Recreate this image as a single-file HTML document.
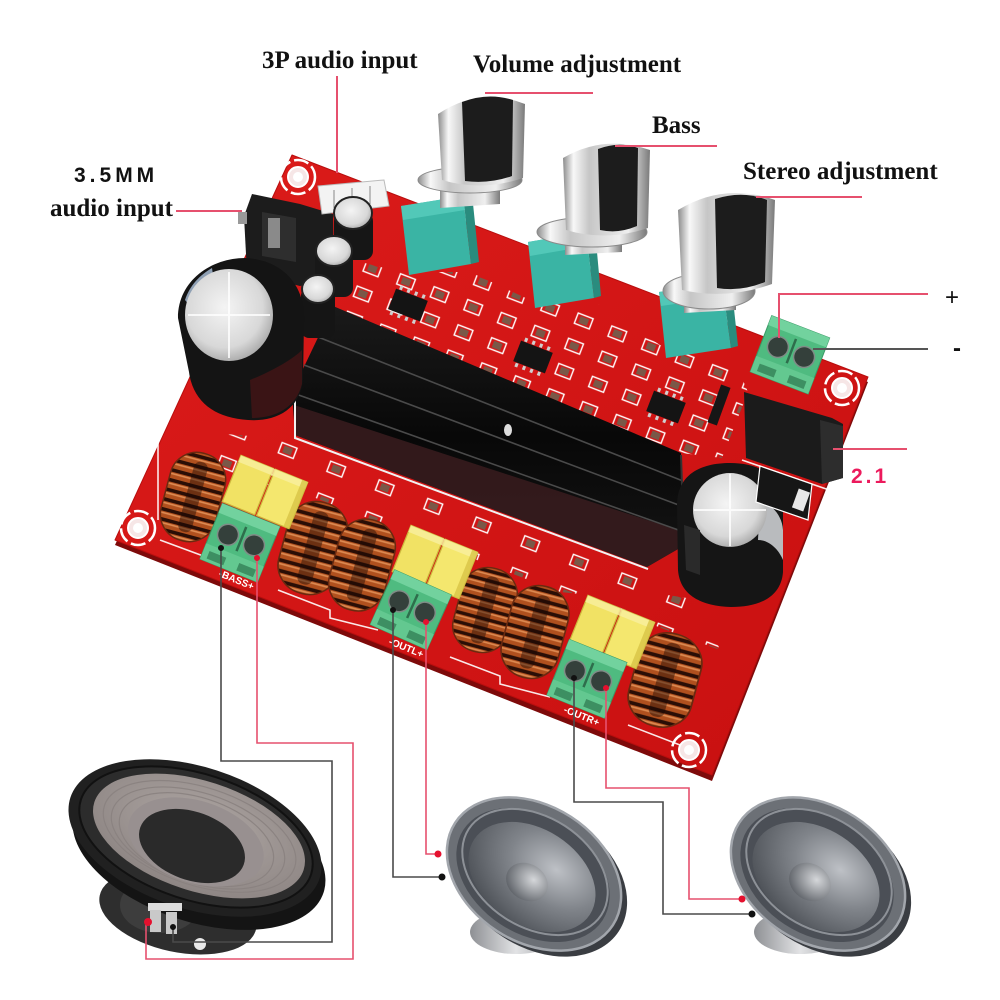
<!DOCTYPE html>
<html><head><meta charset="utf-8"><title>2.1 amplifier board</title><style>
html,body{margin:0;padding:0;background:#fff;}
svg{display:block}
.lbl{font-family:"Liberation Serif",serif;font-weight:bold;fill:#111;font-size:25px;}
.sil{font-family:"Liberation Sans",sans-serif;font-weight:bold;fill:#fff;font-size:10px;}
</style></head><body>
<svg width="1000" height="1000" viewBox="0 0 1000 1000" xmlns="http://www.w3.org/2000/svg">
<defs>
 <linearGradient id="pcb" x1="0" y1="0" x2="1" y2="1">
  <stop offset="0" stop-color="#dc1c1a"/><stop offset=".6" stop-color="#d01414"/><stop offset="1" stop-color="#c81010"/>
 </linearGradient>
 <linearGradient id="chrome" x1="0" y1="0" x2="1" y2="0">
  <stop offset="0" stop-color="#8c8c8c"/><stop offset=".12" stop-color="#f8f8f8"/><stop offset=".3" stop-color="#c6c6c6"/><stop offset=".75" stop-color="#efefef"/><stop offset="1" stop-color="#7a7a7a"/>
 </linearGradient>
 <radialGradient id="silver" cx=".45" cy=".42" r=".62">
  <stop offset="0" stop-color="#f4f4f4"/><stop offset=".7" stop-color="#d8d8d8"/><stop offset="1" stop-color="#a5a5a5"/>
 </radialGradient>
 <pattern id="coilp" patternUnits="userSpaceOnUse" width="12" height="10">
  <rect width="12" height="10" fill="#2a0e06"/><rect width="12" height="6.5" y="1" fill="#b0501e"/><rect width="12" height="1.6" y="2" fill="#dc8a52"/>
 </pattern>
 <pattern id="smdp" patternUnits="userSpaceOnUse" width="36" height="27" patternTransform="rotate(21)">
  <rect x="4" y="4" width="16" height="11" fill="none" stroke="#fff" stroke-width="1.4"/>
  <rect x="7.5" y="6" width="9" height="7" fill="#7a5848"/>
 </pattern>
 <pattern id="smdq" patternUnits="userSpaceOnUse" width="52" height="34" patternTransform="rotate(21)">
  <rect x="6" y="6" width="16" height="11" fill="none" stroke="#fff" stroke-width="1.4"/>
  <rect x="9.5" y="8" width="9" height="7" fill="#7a5848"/>
 </pattern>
 <linearGradient id="hs" x1="0" y1="0" x2="0" y2="1">
  <stop offset="0" stop-color="#1a1a1a"/><stop offset=".5" stop-color="#080808"/><stop offset="1" stop-color="#141414"/>
 </linearGradient>
 <radialGradient id="cone" cx=".62" cy=".3" r=".8">
  <stop offset="0" stop-color="#bec1c6"/><stop offset=".45" stop-color="#80848a"/><stop offset="1" stop-color="#474b51"/>
 </radialGradient>
 <radialGradient id="dcap" cx=".6" cy=".35" r=".7">
  <stop offset="0" stop-color="#d5d7da"/><stop offset="1" stop-color="#5d6167"/>
 </radialGradient>
 <linearGradient id="basket" x1="0" y1="0" x2="1" y2="0">
  <stop offset="0" stop-color="#8e9094"/><stop offset=".5" stop-color="#e2e3e5"/><stop offset="1" stop-color="#9a9ca0"/>
 </linearGradient>
 <radialGradient id="wcone" cx=".5" cy=".4" r=".6">
  <stop offset="0" stop-color="#b0a8a5"/><stop offset="1" stop-color="#8e8684"/>
 </radialGradient>
 <g id="ic"><rect x="-17" y="-11" width="34" height="22" fill="#141414"/><line x1="-14" y1="-13.5" x2="15" y2="-13.5" stroke="#cfcfcf" stroke-width="4" stroke-dasharray="3 5"/><line x1="-14" y1="13.5" x2="15" y2="13.5" stroke="#cfcfcf" stroke-width="4" stroke-dasharray="3 5"/></g>
 <g id="coil"><rect x="-28" y="-45" width="56" height="90" rx="27" fill="url(#coilp)"/><rect x="-7" y="-36" width="14" height="72" rx="6" fill="#1a0804" opacity=".45"/><rect x="-28" y="-45" width="56" height="90" rx="27" fill="none" stroke="#6a2a10" stroke-width="1.5"/></g>
 <g id="ycap">
  <rect x="-36" y="-25" width="35" height="50" fill="#f1e264" stroke="#cdb83c" stroke-width="1.2"/>
  <rect x="1" y="-25" width="35" height="50" fill="#f4e76e" stroke="#cdb83c" stroke-width="1.2"/>
  <rect x="-36" y="-25" width="72" height="7" fill="#f9f0a0" opacity=".8"/>
  <rect x="30" y="-25" width="6" height="50" fill="#d8c446" opacity=".8"/>
 </g>
 <g id="term">
  <rect x="-31" y="-27" width="62" height="60" fill="#4fbb80" stroke="#3a9a66" stroke-width="1"/>
  <rect x="-31" y="-27" width="62" height="10" fill="#72d29e"/>
  <rect x="-31" y="16" width="62" height="17" fill="#63c890"/>
  <rect x="-25" y="22" width="18" height="8" fill="#3d8f62"/><rect x="7" y="22" width="18" height="8" fill="#3d8f62"/>
  <line x1="0" y1="-14" x2="0" y2="12" stroke="#2e6e4c" stroke-width="2.5"/>
  <circle cx="-14" cy="0" r="10.5" fill="#34403b" stroke="#7f8c86" stroke-width="1.5"/>
  <circle cx="14" cy="0" r="10.5" fill="#34403b" stroke="#7f8c86" stroke-width="1.5"/>
 </g>
 <g id="hole"><circle r="17" fill="none" stroke="#fff" stroke-width="2.5" stroke-dasharray="15 4"/><circle r="10" fill="#f6e6e6" stroke="#fff" stroke-width="2"/><circle r="5" fill="#fff"/></g>
</defs>

<rect width="1000" height="1000" fill="#fff"/>

<!-- LABELS -->
<text class="lbl" x="262" y="68">3P audio input</text>
<text class="lbl" x="473" y="72">Volume adjustment</text>
<text class="lbl" x="652" y="133">Bass</text>
<text class="lbl" x="743" y="179">Stereo adjustment</text>
<text x="74" y="182" style="font-family:'Liberation Sans',sans-serif;font-weight:bold;font-size:21px;letter-spacing:4px;fill:#111">3.5MM</text>
<text class="lbl" x="50" y="216">audio input</text>
<text x="952" y="305" text-anchor="middle" style="font-family:'Liberation Sans',sans-serif;font-size:24px;fill:#111">+</text>
<text x="957" y="356" text-anchor="middle" style="font-family:'Liberation Sans',sans-serif;font-weight:bold;font-size:24px;fill:#111">-</text>
<text x="851" y="483" style="font-family:'Liberation Sans',sans-serif;font-weight:bold;font-size:21px;letter-spacing:3px;fill:#ec1a5c">2.1</text>

<!-- BOARD -->
<polygon points="292,160 868,382 712,781 115,545" fill="#7e0a0a"/>
<polygon points="292,155 868,377 712,775 115,540" fill="url(#pcb)" stroke="#b80e0e" stroke-width="1" stroke-linejoin="round"/>

<g stroke="#fff" stroke-width="1.6" fill="none" opacity=".9">
 <polyline points="160,540 206,557"/>
 <polyline points="278,590 330,610 330,618 378,630"/>
 <polyline points="450,657 500,676 500,684 550,697"/>
 <polyline points="628,725 680,745"/>
 <polyline points="158,438 158,520"/>
 <polyline points="742,460 835,492"/>
</g>

<!-- SMD component fields -->
<polygon points="345,258 400,272 470,272 530,300 600,305 660,345 735,362 748,392 722,458 681,453 333,306" fill="url(#smdp)"/>
<polygon points="200,432 300,440 640,570 640,600 560,592 300,492 200,470" fill="url(#smdq)"/>
<polygon points="570,580 700,600 720,650 640,620" fill="url(#smdq)"/>

<use href="#ic" transform="translate(408,305) rotate(21)"/>
<use href="#ic" transform="translate(533,357) rotate(21)"/>
<use href="#ic" transform="translate(666,407) rotate(21)"/>

<use href="#hole" transform="translate(298,177)"/>
<use href="#hole" transform="translate(138,528)"/>
<use href="#hole" transform="translate(842,388)"/>
<use href="#hole" transform="translate(689,750)"/>

<!-- HEATSINK -->
<polygon points="333,306 681,453 685,545 647,567 295,435 292,392" fill="url(#hs)"/>
<polygon points="294,405 684,532 685,545 647,567 295,435" fill="#3a1c1e" opacity=".85"/>
<g stroke="#4a4a4a" stroke-width="1.6">
 <line x1="318" y1="337" x2="683" y2="481"/>
 <line x1="304" y1="365" x2="684" y2="507"/>
 <line x1="293" y1="393" x2="684" y2="532"/>
</g>
<line x1="681" y1="455" x2="684" y2="545" stroke="#333" stroke-width="2"/>
<polyline points="295,395 295,438 648,569" fill="none" stroke="#f2f2f2" stroke-width="2"/>
<ellipse cx="508" cy="430" rx="4" ry="6" fill="#ddd"/>

<!-- 3.5mm jack and 3P connector -->
<polygon points="252,194 300,204 333,214 334,278 300,286 247,273 244,216" fill="#1c1c1c"/>
<polygon points="262,212 296,218 296,262 262,256" fill="#2e2e2e"/>
<rect x="268" y="218" width="12" height="30" fill="#8a8a8a"/>
<rect x="238" y="212" width="9" height="12" fill="#999"/>
<polygon points="318,186 384,180 389,206 322,214" fill="#f3f3f3" stroke="#bbb" stroke-width="1"/>
<path d="M334,190 V208 M352,188 V206 M370,186 V204" stroke="#bdbdbd" stroke-width="2"/>

<!-- small electrolytic caps -->
<rect x="334" y="212" width="39" height="48" rx="9" fill="#161616"/>
<ellipse cx="353" cy="213" rx="19" ry="16" fill="url(#silver)" stroke="#222" stroke-width="2"/>
<rect x="315" y="250" width="38" height="47" rx="9" fill="#181818"/>
<ellipse cx="334" cy="251" rx="18" ry="15" fill="url(#silver)" stroke="#222" stroke-width="2"/>
<rect x="301" y="288" width="34" height="50" rx="8" fill="#151515"/>
<ellipse cx="318" cy="289" rx="16" ry="14" fill="url(#silver)" stroke="#222" stroke-width="2"/>

<!-- big left capacitor -->
<path d="M178,318 C178,280 212,258 245,258 C285,260 306,288 304,322 L303,380 C300,410 275,422 248,420 C215,418 193,402 189,372 Z" fill="#141414"/>
<path d="M250,380 C270,372 292,360 302,350 L302,384 C296,408 275,418 252,418 Z" fill="#4a1416" opacity=".7"/>
<path d="M185,300 C190,285 200,275 212,268 L214,282 C204,290 198,300 195,312 Z" fill="#8fa0b4"/>
<ellipse cx="229" cy="315" rx="44" ry="46" fill="url(#silver)"/>
<path d="M229,272 V358 M188,315 H270" stroke="#fff" stroke-width="2" opacity=".8"/>

<!-- big right capacitor -->
<path d="M677,505 C677,475 700,463 730,463 C762,463 783,478 783,505 L783,572 C781,598 758,607 731,607 C702,606 680,596 678,570 Z" fill="#151515"/>
<path d="M760,500 C772,505 782,515 783,530 L783,560 C778,548 768,540 758,540 Z" fill="#d6d8dc" opacity=".85"/>
<ellipse cx="730" cy="510" rx="37" ry="37" fill="url(#silver)"/>
<path d="M730,474 V546 M694,510 H766" stroke="#fff" stroke-width="2" opacity=".8"/>
<path d="M684,525 L700,530 L700,575 L686,570 Z" fill="#2a2a2a"/>

<!-- DC jack -->
<polygon points="744,392 832,418 843,424 843,478 822,484 746,458" fill="#1b1b1b"/>
<polygon points="820,420 843,426 843,478 822,484" fill="#2d2d2d"/>
<polygon points="760,466 812,484 808,520 756,502" fill="#161616" stroke="#fff" stroke-width="1.2"/>
<rect x="795" y="490" width="12" height="20" fill="#e8e8e8" transform="rotate(20 801 500)"/>
<rect x="714" y="385" width="10" height="40" fill="#161616" transform="rotate(20 719 405)"/>

<!-- KNOB: volume -->
<polygon points="401,206 463,196 471,264 409,275" fill="#3ab4a4"/>
<polygon points="463,196 472,194 479,262 471,264" fill="#2a8c7e"/>
<polygon points="401,206 463,196 465,210 403,220" fill="#52c8b8"/>
<polygon points="440,182 500,178 500,204 440,208" fill="url(#chrome)"/>
<ellipse cx="470" cy="180" rx="52" ry="13" fill="url(#chrome)" stroke="#8a8a8a" stroke-width="1"/>
<path d="M438,114 Q480,86 525,104 L523,178 Q482,192 442,180 Z" fill="url(#chrome)"/>
<path d="M462,102 Q488,92 513,100 L512,176 Q490,184 465,181 Z" fill="#1c1c1c"/>

<!-- KNOB: bass -->
<polygon points="528,242 586,232 594,298 535,308" fill="#3ab4a4"/>
<polygon points="586,232 595,230 601,296 594,298" fill="#2a8c7e"/>
<polygon points="528,242 586,232 588,246 530,256" fill="#52c8b8"/>
<polygon points="565,232 622,228 622,252 565,255" fill="url(#chrome)"/>
<ellipse cx="592" cy="232" rx="55" ry="15" fill="url(#chrome)" stroke="#8a8a8a" stroke-width="1"/>
<path d="M563,158 Q604,134 650,150 L648,228 Q606,242 566,230 Z" fill="url(#chrome)"/>
<path d="M598,149 Q619,141 638,148 L637,226 Q619,234 600,230 Z" fill="#1c1c1c"/>

<!-- KNOB: stereo -->
<polygon points="659,292 722,283 731,348 666,358" fill="#3ab4a4"/>
<polygon points="722,283 731,281 738,346 731,348" fill="#2a8c7e"/>
<polygon points="659,292 722,283 724,297 661,306" fill="#52c8b8"/>
<polygon points="684,290 736,286 736,310 684,313" fill="url(#chrome)"/>
<ellipse cx="709" cy="291" rx="46" ry="18" fill="url(#chrome)" stroke="#8a8a8a" stroke-width="1"/>
<path d="M678,210 Q724,182 775,200 L772,284 Q727,300 682,290 Z" fill="url(#chrome)"/>
<path d="M715,199 Q743,190 767,200 L765,282 Q741,292 717,288 Z" fill="#1c1c1c"/>

<!-- COILS -->
<use href="#coil" transform="translate(193,497) rotate(15)"/>
<use href="#coil" transform="translate(313,548) rotate(15) scale(1.08,1.04)"/>
<use href="#coil" transform="translate(362,565) rotate(15) scale(1.02,1.03)"/>
<use href="#coil" transform="translate(485,610) rotate(15) scale(1,0.95)"/>
<use href="#coil" transform="translate(535,632) rotate(15) scale(1.04,1.04)"/>
<use href="#coil" transform="translate(665,680) rotate(15) scale(1.15,1.05)"/>

<!-- yellow film caps -->
<use href="#ycap" transform="translate(265,492) rotate(22)"/>
<use href="#ycap" transform="translate(435,562) rotate(22)"/>
<use href="#ycap" transform="translate(612,632) rotate(22)"/>

<!-- screw terminals -->
<use href="#term" transform="translate(241,540) rotate(22)"/>
<use href="#term" transform="translate(412,607) rotate(24)"/>
<use href="#term" transform="translate(588,676) rotate(22)"/>
<use href="#term" transform="translate(791,352) rotate(21)"/>

<text class="sil" transform="translate(218,576) rotate(22)">-BASS+</text>
<text class="sil" transform="translate(388,644) rotate(22)">-OUTL+</text>
<text class="sil" transform="translate(563,712) rotate(22)">-OUTR+</text>

<!-- WOOFER -->
<ellipse cx="178" cy="912" rx="80" ry="40" transform="rotate(12 178 912)" fill="#2e2e2e"/>
<ellipse cx="160" cy="905" rx="40" ry="28" fill="#484848" opacity=".6"/>
<ellipse cx="199" cy="852" rx="131" ry="70" transform="rotate(18 199 852)" fill="#141414"/>
<ellipse cx="195" cy="838" rx="131" ry="71" transform="rotate(18 195 838)" fill="#202020"/>
<ellipse cx="196" cy="837" rx="121" ry="63" transform="rotate(18 196 837)" fill="#2c2c2c" stroke="#111" stroke-width="2"/>
<ellipse cx="199" cy="836" rx="110" ry="55" transform="rotate(18 199 836)" fill="url(#wcone)"/>
<g fill="none" stroke="#8a8280" stroke-width="1.2" opacity=".9" transform="rotate(18 198 838)">
 <ellipse cx="199" cy="836" rx="100" ry="49"/>
 <ellipse cx="198" cy="838" rx="90" ry="45"/>
 <ellipse cx="197" cy="840" rx="80" ry="42"/>
</g>
<ellipse cx="196" cy="842" rx="70" ry="41" transform="rotate(18 196 842)" fill="#989090"/>
<ellipse cx="192" cy="846" rx="55" ry="34" transform="rotate(20 192 846)" fill="#2a2a2a"/>
<rect x="148" y="903" width="34" height="8" fill="#ddd"/>
<path d="M150,910 h11 v22 h-11 Z M166,912 h11 v22 h-11 Z" fill="#c9c9c9"/>
<circle cx="200" cy="944" r="6" fill="#e9e9e9"/>

<!-- MID SPEAKER 1 -->
<g>
 <ellipse cx="516" cy="932" rx="46" ry="22" fill="url(#basket)"/>
 <ellipse cx="540" cy="880" rx="94" ry="68" transform="rotate(33 540 880)" fill="#3a3d42"/>
 <ellipse cx="534" cy="874" rx="94" ry="68" transform="rotate(33 534 874)" fill="#6c7076" stroke="#a2a6ac" stroke-width="2.5"/>
 <ellipse cx="533" cy="875" rx="83" ry="59" transform="rotate(33 533 875)" fill="#4b4f56"/>
 <ellipse cx="535" cy="872" rx="79" ry="55" transform="rotate(33 535 872)" fill="none" stroke="#8d9197" stroke-width="2"/>
 <ellipse cx="532" cy="877" rx="69" ry="48" transform="rotate(33 532 877)" fill="url(#cone)"/>
 <ellipse cx="527" cy="882" rx="22" ry="18" transform="rotate(33 527 882)" fill="url(#dcap)"/>
</g>

<!-- MID SPEAKER 2 -->
<g>
 <ellipse cx="800" cy="932" rx="46" ry="22" fill="url(#basket)"/>
 <ellipse cx="824" cy="880" rx="94" ry="68" transform="rotate(33 824 880)" fill="#3a3d42"/>
 <ellipse cx="818" cy="874" rx="94" ry="68" transform="rotate(33 818 874)" fill="#6c7076" stroke="#a2a6ac" stroke-width="2.5"/>
 <ellipse cx="817" cy="875" rx="83" ry="59" transform="rotate(33 817 875)" fill="#4b4f56"/>
 <ellipse cx="819" cy="872" rx="79" ry="55" transform="rotate(33 819 872)" fill="none" stroke="#8d9197" stroke-width="2"/>
 <ellipse cx="816" cy="877" rx="69" ry="48" transform="rotate(33 816 877)" fill="url(#cone)"/>
 <ellipse cx="810" cy="882" rx="22" ry="18" transform="rotate(33 810 882)" fill="url(#dcap)"/>
</g>

<!-- CALLOUT LINES -->
<path d="M337,76 V173 M176,211 H242 M485,93 H593 M615,146 H717 M756,197 H862 M779,338 V294 H928 M833,449 H907" fill="none" stroke="#e6506e" stroke-width="2"/>
<path d="M813,349 H928" stroke="#555" stroke-width="2"/>

<!-- WIRES -->
<path d="M221,548 V761 H332 V942 H173 V927 M393,610 V877 H442 M574,678 V802 H663 V914 H752" fill="none" stroke="#4a4a4a" stroke-width="1.6"/>
<path d="M257,558 V743 H353 V959 H146 V922 M426,622 V854 H438 M606,688 V788 H689 V899 H742" fill="none" stroke="#e6506e" stroke-width="1.6"/>
<path d="M221,548 m-3,0 a3,3 0 1,0 6,0 a3,3 0 1,0 -6,0 M393,610 m-3,0 a3,3 0 1,0 6,0 a3,3 0 1,0 -6,0 M574,678 m-3,0 a3,3 0 1,0 6,0 a3,3 0 1,0 -6,0 M442,877 m-3.5,0 a3.5,3.5 0 1,0 7,0 a3.5,3.5 0 1,0 -7,0 M752,914 m-3.5,0 a3.5,3.5 0 1,0 7,0 a3.5,3.5 0 1,0 -7,0 M173,927 m-3,0 a3,3 0 1,0 6,0 a3,3 0 1,0 -6,0" fill="#111"/>
<path d="M257,558 m-3,0 a3,3 0 1,0 6,0 a3,3 0 1,0 -6,0 M426,622 m-3,0 a3,3 0 1,0 6,0 a3,3 0 1,0 -6,0 M606,688 m-3,0 a3,3 0 1,0 6,0 a3,3 0 1,0 -6,0 M438,854 m-3.5,0 a3.5,3.5 0 1,0 7,0 a3.5,3.5 0 1,0 -7,0 M742,899 m-3.5,0 a3.5,3.5 0 1,0 7,0 a3.5,3.5 0 1,0 -7,0 M148,922 m-4,0 a4,4 0 1,0 8,0 a4,4 0 1,0 -8,0" fill="#e5102e"/>
</svg>
</body></html>
